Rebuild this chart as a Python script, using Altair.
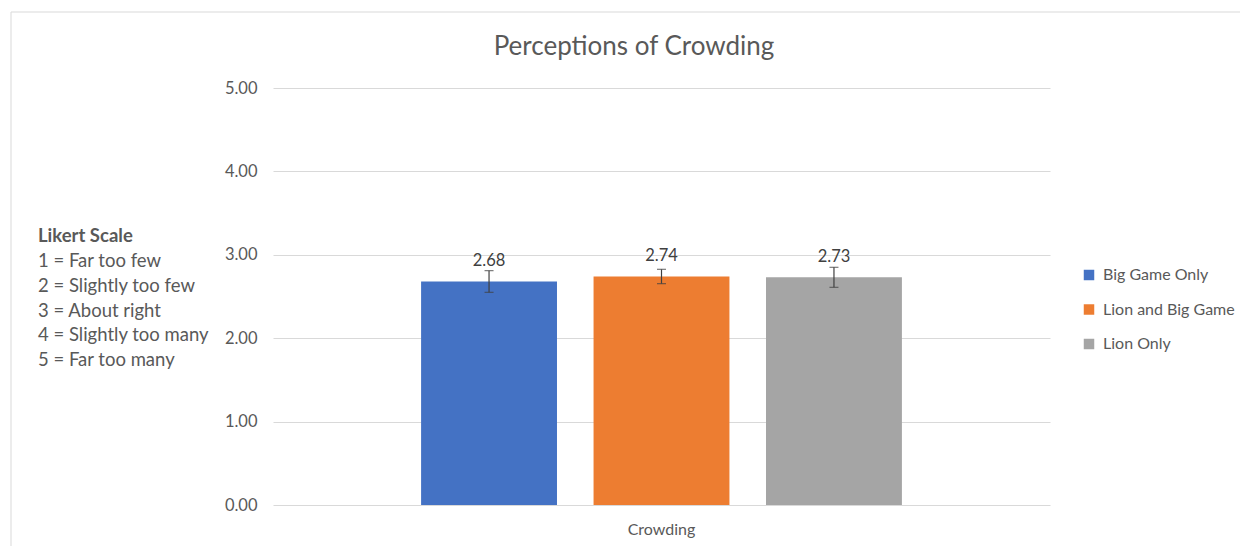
import altair as alt
import pandas as pd

categories = ["Crowding", "Crowding", "Crowding"]
series = ["Big Game Only", "Lion and Big Game", "Lion Only"]
values = [2.68, 2.74, 2.73]
errors = [0.13, 0.086, 0.12]
colors = ["#4472C4", "#ED7D31", "#A5A5A5"]
likert_title = "Likert Scale"
likert_lines = ["1 = Far too few", "2 = Slightly too few", "3 = About right",
                "4 = Slightly too many", "5 = Far too many"]
y_ticks = [0, 1, 2, 3, 4, 5]

FONT = "Lato"
GREY = "#595959"

df = pd.DataFrame({
    "category": categories,
    "series": series,
    "value": values,
    "lo": [v - e for v, e in zip(values, errors)],
    "hi": [v + e for v, e in zip(values, errors)],
    "label": [f"{v:.2f}" for v in values],
})

x_enc = alt.X("category:N", title=None,
              scale=alt.Scale(paddingInner=0, paddingOuter=0.308),
              axis=alt.Axis(labelAngle=0, labelFont=FONT, labelFontSize=16,
                            labelColor=GREY, labelPadding=16, ticks=False,
                            domain=False, grid=False))
xo_enc = alt.XOffset("series:N", sort=series,
                     scale=alt.Scale(paddingInner=0.212, paddingOuter=0))
y_scale = alt.Scale(domain=[0, 5], nice=False)

bars = alt.Chart(df).mark_bar().encode(
    x=x_enc,
    xOffset=xo_enc,
    y=alt.Y("value:Q", scale=y_scale, title=None,
            axis=alt.Axis(values=y_ticks, format=".2f", labelFont=FONT,
                          labelFontSize=16.5, labelColor=GREY, labelPadding=16,
                          ticks=False, domain=False, gridColor="#D9D9D9",
                          gridWidth=1)),
    color=alt.Color("series:N", sort=series,
                    scale=alt.Scale(domain=series, range=colors),
                    legend=alt.Legend(title=None, orient="none", legendX=808,
                                      legendY=179, symbolType="square",
                                      symbolSize=110, symbolStrokeWidth=0,
                                      labelFont=FONT, labelFontSize=16,
                                      labelColor=GREY, rowPadding=18.5,
                                      labelOffset=6)),
)

err = alt.Chart(df).mark_rule(color="#404040", strokeWidth=1.2).encode(
    x=x_enc, xOffset=xo_enc,
    y=alt.Y("lo:Q", scale=y_scale), y2="hi:Q",
)
cap_lo = alt.Chart(df).mark_tick(color="#404040", size=9, thickness=1.2).encode(
    x=x_enc, xOffset=xo_enc, y=alt.Y("lo:Q", scale=y_scale),
)
cap_hi = alt.Chart(df).mark_tick(color="#404040", size=9, thickness=1.2).encode(
    x=x_enc, xOffset=xo_enc, y=alt.Y("hi:Q", scale=y_scale),
)
labels = alt.Chart(df).mark_text(font=FONT, fontSize=16.5, color="#404040",
                                 baseline="middle", dy=-20).encode(
    x=x_enc, xOffset=xo_enc,
    y=alt.Y("value:Q", scale=y_scale), text="label:N",
)

title = alt.Chart(df.iloc[:1]).mark_text(
    font=FONT, fontSize=26, color=GREY, align="center", baseline="middle"
).encode(x=alt.value(361), y=alt.value(-41),
         text=alt.value("Perceptions of Crowding"))

likert_head = alt.Chart(df.iloc[:1]).mark_text(
    font=FONT, fontSize=18.5, fontWeight="bold", color=GREY, align="left",
    baseline="middle").encode(x=alt.value(-235), y=alt.value(148),
                              text=alt.value(likert_title))
likert_body = alt.Chart(df.iloc[:1]).mark_text(
    font=FONT, fontSize=18.5, color=GREY, align="left", baseline="middle",
    lineHeight=24.8
).encode(x=alt.value(-235), y=alt.value(173), text=alt.value(likert_lines))

border = alt.Chart(df.iloc[:1]).mark_rect(
    fill=None, stroke="#D9D9D9", strokeWidth=1
).encode(x=alt.value(-262), x2=alt.value(1000), y=alt.value(-76),
         y2=alt.value(500))

chart = alt.layer(border, bars, err, cap_lo, cap_hi, labels, title,
                  likert_head, likert_body).properties(
    width=777, height=417,
    background="white",
    autosize=alt.AutoSizeParams(type="none"),
    padding={"left": 265, "top": 80, "right": 190, "bottom": 45},
).configure_view(strokeWidth=0, stroke="transparent").configure_axisX(
    grid=False
)

chart.save("out.html", embed_options={"renderer": "svg", "actions": False})
